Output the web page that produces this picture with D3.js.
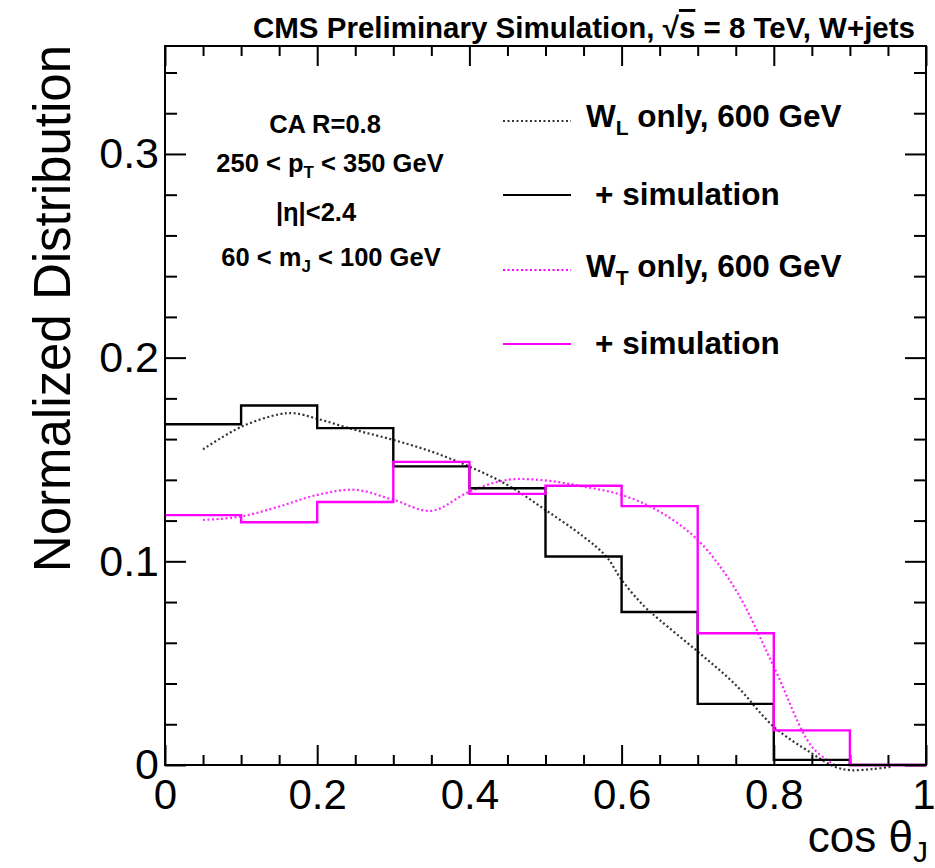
<!DOCTYPE html>
<html>
<head>
<meta charset="utf-8">
<script src="https://cdn.jsdelivr.net/npm/d3@7/dist/d3.min.js"></script>
<style>
  html, body { margin: 0; padding: 0; background: #fff; }
  svg { display: block; }
  text { font-family: "Liberation Sans", Arial, Helvetica, sans-serif; fill: #000; }
</style>
</head>
<body>
<svg id="chart" width="935" height="868"></svg>
<script>
// cos(theta_J) bin edges (10 bins of width 0.1)
const binEdges = [0, 0.1, 0.2, 0.3, 0.4, 0.5, 0.6, 0.7, 0.8, 0.9, 1.0];

// W_L + simulation histogram (normalized)
const wlSimValues = [0.1673, 0.1765, 0.1654, 0.1466, 0.1359, 0.1024, 0.0751, 0.0300, 0.0025, 0.0];
// W_T + simulation histogram (normalized)
const wtSimValues = [0.1227, 0.1192, 0.1291, 0.1488, 0.1331, 0.1371, 0.1271, 0.0647, 0.0170, 0.0];

// W_L only, 600 GeV analytic curve (x, value)
const wlCurveX = [0.05, 0.10, 0.15, 0.17, 0.20, 0.25, 0.30, 0.35, 0.40, 0.45, 0.50, 0.55, 0.58, 0.60, 0.63, 0.65, 0.70, 0.75, 0.80, 0.85, 0.88, 0.90, 0.93, 0.955];
const wlCurveY = [0.155, 0.166, 0.1722, 0.1727, 0.170, 0.1645, 0.1596, 0.1539, 0.1465, 0.1375, 0.1252, 0.1121, 0.1023, 0.0909, 0.0778, 0.0712, 0.0557, 0.0393, 0.0188, 0.0057, -0.0008, -0.0025, -0.002, -0.0008];

// W_T only, 600 GeV analytic curve (x, value)
const wtCurveX = [0.05, 0.10, 0.15, 0.20, 0.25, 0.30, 0.35, 0.40, 0.45, 0.50, 0.55, 0.60, 0.65, 0.70, 0.75, 0.80, 0.85, 0.88];
const wtCurveY = [0.1203, 0.122, 0.1269, 0.1326, 0.1351, 0.1302, 0.1248, 0.1342, 0.140, 0.1397, 0.1367, 0.1326, 0.1244, 0.1105, 0.086, 0.0483, 0.009, 0.0];

// Axis ticks
const xMajorTicks = [0, 0.2, 0.4, 0.6, 0.8, 1];
const xTickLabels = ["0", "0.2", "0.4", "0.6", "0.8", "1"];
const yMajorTicks = [0, 0.1, 0.2, 0.3];
const yTickLabels = ["0", "0.1", "0.2", "0.3"];

const magenta = "#ff00ff";

const svg = d3.select("#chart");
svg.append("rect").attr("width", 935).attr("height", 868).attr("fill", "#fff");

const x = d3.scaleLinear().domain([0, 1]).range([165, 926]);
const y = d3.scaleLinear().domain([0, 0.353]).range([765, 46]);

const xMinor = d3.range(0, 1.0001, 0.05).map(v => +v.toFixed(2)).filter(v => !xMajorTicks.includes(v));
const yMinor = d3.range(0, 0.353, 0.02).map(v => +v.toFixed(2)).filter(v => !yMajorTicks.some(t => Math.abs(t - v) < 1e-9));

const tickStroke = g => g.selectAll("line").attr("stroke", "#000").attr("stroke-width", 2);

// bottom axis with labels
const gBottom = svg.append("g").attr("transform", `translate(0,${y(0)})`);
gBottom.call(d3.axisBottom(x).tickValues(xMajorTicks).tickSize(-20).tickPadding(14)
  .tickFormat((d, i) => xTickLabels[i]));
gBottom.select(".domain").remove();
gBottom.selectAll("text").attr("font-size", 42).attr("font-family", "Liberation Sans, Arial, sans-serif").attr("fill", "#000").attr("dy", "0.71em");
// keep the last label inside the page
gBottom.selectAll(".tick").filter(d => d === 1).select("text").attr("text-anchor", "end").attr("x", 9);
gBottom.call(tickStroke);
const gBottomMinor = svg.append("g").attr("transform", `translate(0,${y(0)})`);
gBottomMinor.call(d3.axisBottom(x).tickValues(xMinor).tickSize(-10).tickFormat(""));
gBottomMinor.select(".domain").remove();
gBottomMinor.call(tickStroke);

// top axis ticks
const gTop = svg.append("g").attr("transform", `translate(0,${y.range()[1]})`);
gTop.call(d3.axisTop(x).tickValues(xMajorTicks).tickSize(-20).tickFormat(""));
gTop.select(".domain").remove();
gTop.call(tickStroke);
const gTopMinor = svg.append("g").attr("transform", `translate(0,${y.range()[1]})`);
gTopMinor.call(d3.axisTop(x).tickValues(xMinor).tickSize(-10).tickFormat(""));
gTopMinor.select(".domain").remove();
gTopMinor.call(tickStroke);

// left axis with labels
const gLeft = svg.append("g").attr("transform", `translate(${x(0)},0)`);
gLeft.call(d3.axisLeft(y).tickValues(yMajorTicks).tickSize(-21).tickPadding(6)
  .tickFormat((d, i) => yTickLabels[i]));
gLeft.select(".domain").remove();
gLeft.selectAll("text").attr("font-size", 43).attr("font-family", "Liberation Sans, Arial, sans-serif").attr("fill", "#000");
gLeft.call(tickStroke);
const gLeftMinor = svg.append("g").attr("transform", `translate(${x(0)},0)`);
gLeftMinor.call(d3.axisLeft(y).tickValues(yMinor).tickSize(-12).tickFormat(""));
gLeftMinor.select(".domain").remove();
gLeftMinor.call(tickStroke);

// right axis ticks
const gRight = svg.append("g").attr("transform", `translate(${x(1)},0)`);
gRight.call(d3.axisRight(y).tickValues(yMajorTicks).tickSize(-21).tickFormat(""));
gRight.select(".domain").remove();
gRight.call(tickStroke);
const gRightMinor = svg.append("g").attr("transform", `translate(${x(1)},0)`);
gRightMinor.call(d3.axisRight(y).tickValues(yMinor).tickSize(-12).tickFormat(""));
gRightMinor.select(".domain").remove();
gRightMinor.call(tickStroke);

// histograms as step outlines
function stepPoints(values) {
  const pts = values.map((v, i) => [binEdges[i], v]);
  pts.push([binEdges[binEdges.length - 1], values[values.length - 1]]);
  return pts;
}
const stepLine = d3.line().x(d => x(d[0])).y(d => y(d[1])).curve(d3.curveStepAfter);

// smooth curves
const smoothLine = d3.line().x(d => x(d[0])).y(d => y(d[1])).curve(d3.curveCatmullRom.alpha(0.5));

svg.append("path")
  .attr("d", smoothLine(wlCurveX.map((v, i) => [v, wlCurveY[i]])))
  .attr("fill", "none").attr("stroke", "#333").attr("stroke-width", 2.2)
  .attr("stroke-dasharray", "2,2.5");

svg.append("path")
  .attr("d", smoothLine(wtCurveX.map((v, i) => [v, wtCurveY[i]])))
  .attr("fill", "none").attr("stroke", magenta).attr("stroke-width", 2.2)
  .attr("stroke-opacity", 0.85)
  .attr("stroke-dasharray", "2,2.5");

svg.append("path")
  .attr("d", stepLine(stepPoints(wlSimValues)))
  .attr("fill", "none").attr("stroke", "#000").attr("stroke-width", 2.4);

svg.append("path")
  .attr("d", stepLine(stepPoints(wtSimValues)))
  .attr("fill", "none").attr("stroke", magenta).attr("stroke-width", 2.4);

// frame
svg.append("rect")
  .attr("x", x(0)).attr("y", y.range()[1])
  .attr("width", x(1) - x(0)).attr("height", y(0) - y.range()[1])
  .attr("fill", "none").attr("stroke", "#000").attr("stroke-width", 2);

// title
const title = svg.append("text").attr("x", 915).attr("y", 38)
  .attr("text-anchor", "end").attr("font-size", 29.5).attr("font-weight", "bold")
  .attr("textLength", 662).attr("lengthAdjust", "spacingAndGlyphs");
title.append("tspan").text("CMS Preliminary Simulation, ");
title.append("tspan").text("√");
title.append("tspan").attr("style", "text-decoration: overline").text("s");
title.append("tspan").text(" = 8 TeV, W+jets");

// axis titles
svg.append("text")
  .attr("transform", "translate(70,45) rotate(-90)")
  .attr("text-anchor", "end").attr("font-size", 51)
  .text("Normalized Distribution");

const xTitle = svg.append("text").attr("x", 928).attr("y", 852)
  .attr("text-anchor", "end").attr("font-size", 44);
xTitle.append("tspan").text("cos θ");
xTitle.append("tspan").attr("font-size", 30).attr("dy", 10).text("J");

// selection text box
const box = svg.append("g").attr("font-weight", "bold").attr("font-size", 25.5).attr("text-anchor", "middle");
box.append("text").attr("x", 325).attr("y", 133).text("CA R=0.8");
const l2 = box.append("text").attr("x", 330).attr("y", 172);
l2.append("tspan").text("250 < p");
l2.append("tspan").attr("font-size", 17).attr("dy", 6).text("T");
l2.append("tspan").attr("dy", -6).text(" < 350 GeV");
box.append("text").attr("x", 316).attr("y", 221).text("|η|<2.4");
const l4 = box.append("text").attr("x", 331).attr("y", 266);
l4.append("tspan").text("60 < m");
l4.append("tspan").attr("font-size", 17).attr("dy", 6).text("J");
l4.append("tspan").attr("dy", -6).text(" < 100 GeV");

// legend
const legendEntries = [
  { main: "W", sub: "L", rest: " only, 600 GeV", color: "#333", dash: "2,2.5", lineY: 121, textY: 127, textX: 586 },
  { main: "+ simulation", sub: null, rest: "", color: "#000", dash: null, lineY: 195, textY: 205, textX: 595 },
  { main: "W", sub: "T", rest: " only, 600 GeV", color: magenta, dash: "2,2.5", lineY: 270, textY: 277, textX: 586 },
  { main: "+ simulation", sub: null, rest: "", color: magenta, dash: null, lineY: 344, textY: 354, textX: 595 }
];
const leg = svg.append("g");
legendEntries.forEach(e => {
  const ln = leg.append("line").attr("x1", 503).attr("x2", 571).attr("y1", e.lineY).attr("y2", e.lineY)
    .attr("stroke", e.color).attr("stroke-width", 2);
  if (e.dash) ln.attr("stroke-dasharray", e.dash);
  const t = leg.append("text").attr("x", e.textX).attr("y", e.textY)
    .attr("font-size", 31.5).attr("font-weight", "bold");
  t.append("tspan").text(e.main);
  if (e.sub) {
    t.append("tspan").attr("font-size", 21).attr("dy", 8).text(e.sub);
    t.append("tspan").attr("dy", -8).text(e.rest);
  }
});
</script>
</body>
</html>
